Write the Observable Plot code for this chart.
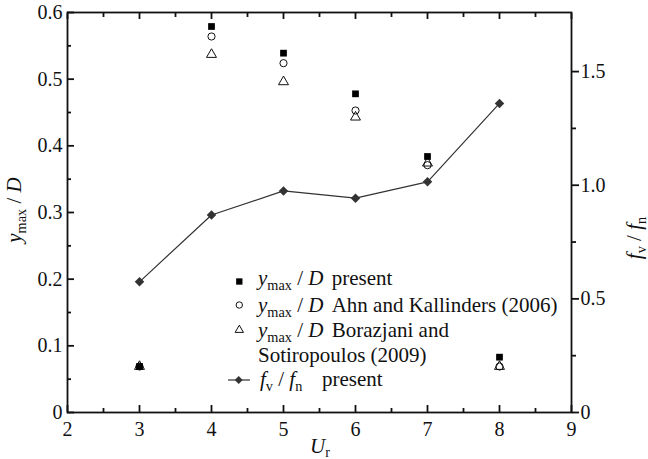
<!DOCTYPE html>
<html>
<head>
<meta charset="utf-8">
<script src="https://cdn.jsdelivr.net/npm/d3@7"></script>
<script src="https://cdn.jsdelivr.net/npm/@observablehq/plot@0.6"></script>
<style>
  html, body { margin: 0; padding: 0; background: #fff; }
  #chart { position: relative; width: 648px; height: 459px; }
  #chart svg, #chart svg text, #chart svg tspan { font-family: "Liberation Serif", "Times New Roman", serif !important; }
</style>
</head>
<body>
<div id="chart"></div>
<script>
// ---- data ----
const Ur = [3, 4, 5, 6, 7, 8];
const yPresent   = [0.069, 0.579, 0.539, 0.478, 0.384, 0.083];
const yAhn       = [0.069, 0.564, 0.524, 0.453, 0.371, 0.069];
const yBorazjani = [0.069, 0.537, 0.496, 0.443, 0.374, 0.069];
const fvfn       = [0.575, 0.869, 0.975, 0.943, 1.015, 1.36];

const xTicks = [2, 3, 4, 5, 6, 7, 8, 9];
const xMinor = [2.5, 3.5, 4.5, 5.5, 6.5, 7.5, 8.5];
const yTicks = [0, 0.1, 0.2, 0.3, 0.4, 0.5, 0.6];
const yMinor = [0.05, 0.15, 0.25, 0.35, 0.45, 0.55];
const rTicks = [0, 0.5, 1.0, 1.5];
const rMinor = [0.25, 0.75, 1.25];

const yMax = 0.6, rMax = 1.76;
const k = yMax / rMax;

const pts = (vals) => Ur.map((u, i) => ({u, v: vals[i]}));
const fvData = Ur.map((u, i) => ({u, v: fvfn[i] * k}));

const ink = "#111";
const noLabel = () => "";
const fam = "'Liberation Serif', 'Times New Roman', serif";

const chart = Plot.plot({
  width: 648, height: 459,
  marginLeft: 67, marginRight: 77, marginTop: 12, marginBottom: 47,
  x: {domain: [2, 9]},
  y: {domain: [0, yMax]},
  style: {fontFamily: fam, fontSize: "20px", color: ink, background: "#fff"},
  marks: [
    // bottom axis
    Plot.axisX({ticks: xTicks, tickSize: 0, tickPadding: 9, tickFormat: d => String(d), label: null}),
    Plot.axisX({ticks: xTicks, tickSize: -7, tickFormat: noLabel, label: null, strokeWidth: 1.8}),
    Plot.axisX({ticks: xMinor, tickSize: -4, tickFormat: noLabel, label: null, strokeWidth: 1.8}),
    // top axis
    Plot.axisX({anchor: "top", ticks: xTicks, tickSize: -6, tickFormat: noLabel, label: null, strokeWidth: 1.8}),
    Plot.axisX({anchor: "top", ticks: xMinor, tickSize: -4, tickFormat: noLabel, label: null, strokeWidth: 1.8}),
    // left axis
    Plot.axisY({ticks: yTicks, tickSize: 0, tickPadding: 5, tickFormat: d => d === 0 ? "0" : d.toFixed(1), label: null}),
    Plot.axisY({ticks: yTicks, tickSize: -7, tickFormat: noLabel, label: null, strokeWidth: 1.8}),
    Plot.axisY({ticks: yMinor, tickSize: -4, tickFormat: noLabel, label: null, strokeWidth: 1.8}),
    // right axis (f_v / f_n)
    Plot.axisY({anchor: "right", ticks: rTicks.map(v => v * k), tickSize: 7, tickPadding: 2,
      tickFormat: d => { const v = d / k; return Math.abs(v) < 1e-9 ? "0" : v.toFixed(1); }, label: null, strokeWidth: 1.8}),
    Plot.axisY({anchor: "right", ticks: rMinor.map(v => v * k), tickSize: 4, tickFormat: noLabel, label: null, strokeWidth: 1.8}),
    Plot.frame({stroke: ink, strokeWidth: 1.8}),
    // f_v / f_n present
    Plot.line(fvData, {x: "u", y: "v", stroke: "#333", strokeWidth: 1.2}),
    Plot.dot(fvData, {x: "u", y: "v", symbol: "diamond2", r: 4.3, fill: "#333", stroke: "none"}),
    // y_max / D series
    Plot.dot(pts(yBorazjani), {x: "u", y: "v", symbol: "triangle", r: 3.7, fill: "none", stroke: ink, strokeWidth: 1}),
    Plot.dot(pts(yAhn), {x: "u", y: "v", symbol: "circle", r: 3.6, fill: "none", stroke: ink, strokeWidth: 1}),
    Plot.dot(pts(yPresent), {x: "u", y: "v", symbol: "square", r: 3.8, fill: "#000", stroke: "none"})
  ]
});

document.getElementById("chart").appendChild(chart);

// ---- axis titles and legend (text with subscripts) ----
const svg = d3.select(chart);
const g = svg.append("g").attr("font-family", fam).attr("fill", ink).attr("text-anchor", "start");

function ratio(sel, a, sa, b, sb, fs) {
  sel.append("tspan").attr("font-style", "italic").text(a);
  sel.append("tspan").attr("font-size", fs * 0.68).attr("dy", fs * 0.22).text(sa);
  sel.append("tspan").attr("dy", -fs * 0.22).text(b ? " / " : "");
  if (b) {
    sel.append("tspan").attr("font-style", "italic").text(b);
    if (sb) sel.append("tspan").attr("font-size", fs * 0.68).attr("dy", fs * 0.22).text(sb);
  }
}

// left title
const lt = g.append("text").attr("font-size", 21).attr("text-anchor", "middle")
  .attr("transform", "translate(21,210) rotate(-90)");
ratio(lt, "y", "max", "D", null, 21);

// right title
const rt = g.append("text").attr("font-size", 21).attr("text-anchor", "middle")
  .attr("transform", "translate(641,238) rotate(-90)");
ratio(rt, "f", "v", "f", "n", 21);

// bottom title
const bt = g.append("text").attr("font-size", 21).attr("x", 310).attr("y", 453);
bt.append("tspan").attr("font-style", "italic").text("U");
bt.append("tspan").attr("font-size", 14).attr("dy", 4).text("r");

// legend
const L = g.append("g").attr("font-size", 21);
const sym = (type, size) => d3.symbol(type, size)();
L.append("path").attr("d", sym(d3.symbolSquare, 40)).attr("transform", "translate(239.3,281.5)").attr("fill", "#000");
L.append("path").attr("d", sym(d3.symbolCircle, 32)).attr("transform", "translate(239.3,305)").attr("fill", "none").attr("stroke", ink);
L.append("path").attr("d", sym(d3.symbolTriangle, 30)).attr("transform", "translate(239.3,330)").attr("fill", "none").attr("stroke", ink);
L.append("line").attr("x1", 228).attr("x2", 250).attr("y1", 380).attr("y2", 380).attr("stroke", "#333").attr("stroke-width", 1.2);
L.append("path").attr("d", sym(d3.symbolDiamond2, 40)).attr("transform", "translate(238.7,380)").attr("fill", "#333");

const rows = [
  {y: 285, first: "y", sub: "max", rest: "present"},
  {y: 312, first: "y", sub: "max", rest: "Ahn and Kallinders (2006)"},
  {y: 337, first: "y", sub: "max", rest: "Borazjani and"}
];
rows.forEach(r => {
  const t = L.append("text").attr("x", 258).attr("y", r.y);
  ratio(t, r.first, r.sub, "D", null, 21);
  L.append("text").attr("x", 331.7).attr("y", r.y).text(r.rest);
});
L.append("text").attr("x", 258).attr("y", 362).text("Sotiropoulos (2009)");
const l5 = L.append("text").attr("x", 260).attr("y", 386);
ratio(l5, "f", "v", "f", "n", 21);
L.append("text").attr("x", 322).attr("y", 386).text("present");
</script>
</body>
</html>
